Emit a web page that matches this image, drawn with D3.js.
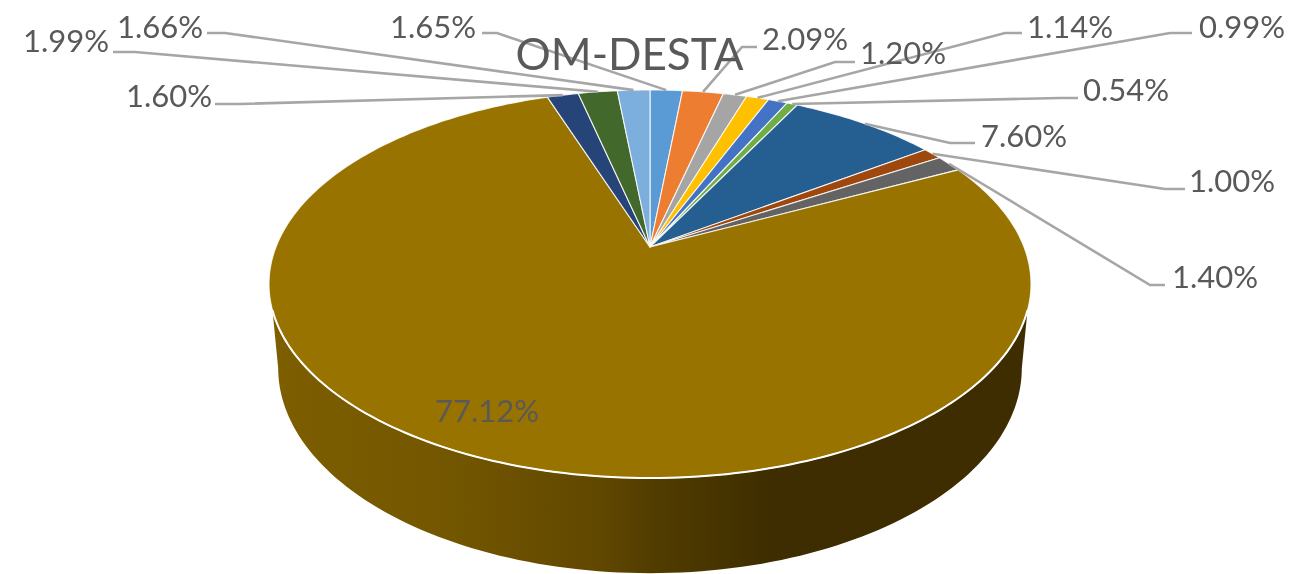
<!DOCTYPE html>
<html><head><meta charset="utf-8">
<script src="https://cdn.jsdelivr.net/npm/d3@7"></script>
<style>html,body{margin:0;padding:0;background:#fff}svg{display:block;filter:blur(0.6px)}text{font-family:Lato,sans-serif;fill:#595959}</style>
</head><body><svg id="c" width="1294" height="574"></svg>
<script>
const chartTitle = "OM-DESTA";
const values = [1.65,2.09,1.20,1.14,0.99,0.54,7.60,1.00,1.40,77.12,1.60,1.99,1.66];
const colors = ["#5b9bd5","#ed7d31","#a5a5a5","#ffc000","#4472c4","#70ad47","#255e91","#9e480e","#636363","#997300","#264478","#43682b","#7cafdd"];
const labelCentres = [[433,27],[805,39],[903,53],[1070,27],[1242,27],[1126,90],[1024,136],[1232,181],[1215,277],[487,411],[169,96],[66,41],[160,27]];
const elbows = [[[482,33],[497,33]],[[757,47],[742,47]],[[855,62],[835,62]],[[1022,33],[1005,33]],[[1192,33],[1170,33]],[[1078,98],[1060,98]],[[975,143],[950,143]],[[1185,189],[1165,189]],[[1165,285],[1150,285]],null,[[215,104],[240,104]],[[113,52],[135,52]],[[207,33],[225,33]]];
const sideStops = [[0,"#7d5e00"],[0.24,"#735600"],[0.44,"#604700"],[0.5,"#523d00"],[0.66,"#3e2d00"],[1,"#3e2d00"]];

const k = 0.1907;
// perspective projection of a disc rim (angle clockwise from the back)
const project = (a, r, p) => {
  const u = r*Math.sin(a), v = r*Math.cos(a), w = 1 + k*v;
  return [p.cx + p.b*u/w, p.cy - p.a*v/w];
};
const topDisc = {cx:650, cy:247, a:187, b:374};
const botDisc = {cx:650, cy:329, a:197.6, b:365};

const svg = d3.select("#c");
const grad = svg.append("defs").append("linearGradient").attr("id","side")
  .attr("gradientUnits","userSpaceOnUse").attr("x1",270).attr("x2",1030).attr("y1",0).attr("y2",0);
grad.selectAll("stop").data(sideStops).join("stop").attr("offset",d=>d[0]).attr("stop-color",d=>d[1]);

const line = d3.line();
const deg = d3.scaleLinear().domain([0,360]).range([0,2*Math.PI]);

// rim side
const sampled = (a0,a1,p) => d3.range(0,121).map(i => project(a0+(a1-a0)*i/120,1,p));
const sidePts = sampled(deg(108.5),deg(251.5),topDisc).concat(sampled(deg(259),deg(101),botDisc));
svg.append("path").attr("d",line(sidePts)+"Z").attr("fill","url(#side)");

// slices
const arcs = d3.pie().sort(null).value(d=>d)(values);
const apex = project(0,0,topDisc);
svg.append("g").selectAll("path").data(arcs).join("path")
  .attr("d",d=>{
    const n = Math.max(4,Math.ceil((d.endAngle-d.startAngle)*60));
    const pts = d3.range(n+1).map(i=>project(d.startAngle+(d.endAngle-d.startAngle)*i/n,1,topDisc));
    return line([apex,...pts])+"Z";
  })
  .attr("fill",(d,i)=>colors[i]).attr("stroke","#fff").attr("stroke-opacity",0.85).attr("stroke-width",1.1).attr("stroke-linejoin","round");

// bright rim along the front edge
svg.append("path").attr("d",line(sampled(deg(108.5),deg(251.5),topDisc)))
  .attr("fill","none").attr("stroke","#fff").attr("stroke-width",2);

// leader lines
svg.append("g").selectAll("path").data(arcs.filter(d=>elbows[d.index])).join("path")
  .attr("d",d=>line([...elbows[d.index],project((d.startAngle+d.endAngle)/2,1,topDisc)]))
  .attr("fill","none").attr("stroke","#a6a6a6").attr("stroke-width",2.6);

// labels
svg.append("g").selectAll("text").data(values).join("text")
  .attr("x",(d,i)=>labelCentres[i][0]).attr("y",(d,i)=>labelCentres[i][1]+11)
  .attr("text-anchor","middle").attr("font-size",31)
  .text(d=>d.toFixed(2)+"%");

svg.append("text").attr("x",629.5).attr("y",70).attr("text-anchor","middle")
  .attr("font-size",44).text(chartTitle);
</script></body></html>
